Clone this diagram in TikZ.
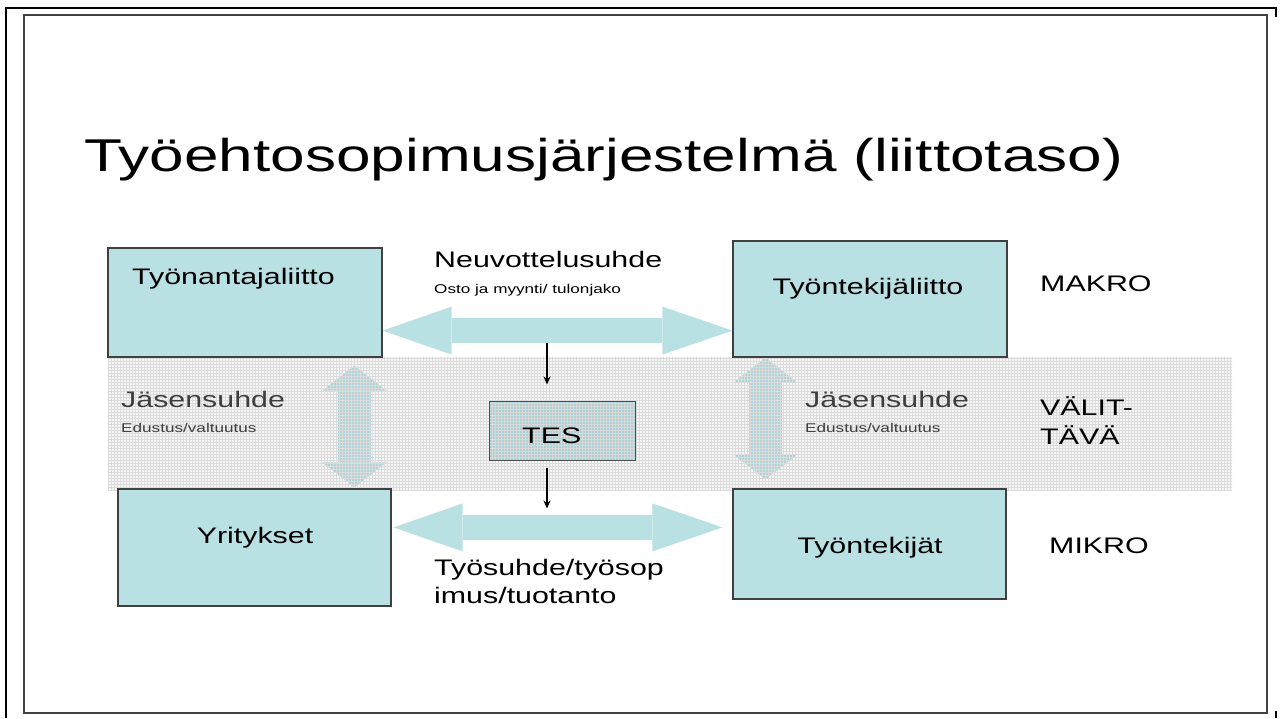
\documentclass[tikz,border=0pt]{standalone}
\usepackage{fontspec}
\setmainfont{Liberation Sans}[FakeStretch=1.35]
\usetikzlibrary{arrows.meta,patterns,backgrounds}
\definecolor{boxcyan}{RGB}{185,224,227}
\definecolor{bandgray}{RGB}{246,246,246}
\definecolor{arrowgray}{RGB}{176,212,215}
\definecolor{tescyan}{RGB}{172,208,211}
\definecolor{jasengray}{RGB}{62,62,62}
\begin{document}
\begin{tikzpicture}[x=1pt,y=-1pt,line join=miter,>=Stealth,
  box/.style={draw=black!75,line width=1.2pt,fill=boxcyan,inner sep=0pt},
  bigtxt/.style={font=\fontsize{22.5}{26}\selectfont,anchor=base west,inner sep=0pt},
  smalltxt/.style={font=\fontsize{12.7}{15}\selectfont,anchor=base west,inner sep=0pt},
  fatarrow/.style={draw=boxcyan,line width=25pt,{Triangle[length=69pt,width=48pt,line width=0pt]}-{Triangle[length=70pt,width=48pt,line width=0pt]}},
  uparrow/.style={draw=arrowgray,line width=33pt,{Triangle[length=25pt,width=64pt,line width=0pt]}-{Triangle[length=25pt,width=64pt,line width=0pt]}},
  smallarrow/.style={->,line width=1.1pt,>={Stealth[length=8pt,width=7pt]}}]
 \useasboundingbox (0,0) rectangle (1283,718);
 \draw[line width=2.6pt] (6,718)--(6,8)--(1276,8)--(1276,17);
 \draw[line width=2.6pt] (1276,711)--(1276,718);
 \draw[line width=1.5pt,black!75] (24,15) rectangle (1267,713);
 \node[bigtxt,font=\fontsize{46}{55}\selectfont] (otsikko) at (84,171) {Työehtosopimusjärjestelmä (liittotaso)};
 \node[box] (tyonantaja) at (245,302.5) [minimum width=274,minimum height=109] {};
 \node[box] (tyontekijaliitto) at (870,299) [minimum width=274,minimum height=116] {};
 \node[box] (yritykset) at (254.5,547.5) [minimum width=273,minimum height=117] {};
 \node[box] (tyontekijat) at (869.5,544) [minimum width=273,minimum height=110] {};
 \node[box,draw=black!70,line width=1pt,preaction={fill=tescyan},pattern=grid,pattern color=gray!30] (tes) at (562,430.5) [minimum width=146,minimum height=59] {};
 \begin{scope}[on background layer]
  \fill[white] (0,0) rectangle (1283,718);
  \fill[bandgray] (108,357) rectangle (1232,490);
  \draw[uparrow] ([xshift=247pt,yshift=-8pt]tyonantaja.south west)--([xshift=237pt,yshift=1pt]yritykset.north west);
  \draw[uparrow] ([xshift=33pt]tyontekijaliitto.south west)--([xshift=33pt,yshift=9pt]tyontekijat.north west);
  \fill[pattern=grid,pattern color=gray!28] (108,357) rectangle (1232,490);
 \end{scope}
 \node[bigtxt] at (522,443) {TES};
 \foreach \x in {121,805} {
  \node[bigtxt,text=jasengray] at (\x,407) {Jäsensuhde};
  \node[smalltxt,text=jasengray] at (\x,432) {Edustus/valtuutus};
 }
 \node[bigtxt] at (132,284) {Työnantajaliitto};
 \node[bigtxt,anchor=base] at (868,294) {Työntekijäliitto};
 \node[bigtxt,anchor=base] at (255,543) {Yritykset};
 \node[bigtxt,anchor=base] at (870,553) {Työntekijät};
 \draw[fatarrow] ([yshift=27pt]tyonantaja.south east)--([yshift=27pt]tyontekijaliitto.south west);
 \draw[fatarrow] ([xshift=2pt,yshift=-39pt]yritykset.north east)--([xshift=-10pt,yshift=-39pt]tyontekijat.north west);
 \draw[smallarrow] ([xshift=-15pt,yshift=58pt]tes.north)--([xshift=-15pt,yshift=16pt]tes.north);
 \draw[smallarrow] ([xshift=-15pt,yshift=-7pt]tes.south)--([xshift=-15pt,yshift=-48pt]tes.south);
 \node[bigtxt] at (434,267) {Neuvottelusuhde};
 \node[smalltxt] at (434,293) {Osto ja myynti/ tulonjako};
 \node[bigtxt] at (434,575) {Työsuhde/työsop};
 \node[bigtxt] at (434,603) {imus/tuotanto};
 \node[bigtxt] at (1040,291) {MAKRO};
 \node[bigtxt] at (1040,415) {VÄLIT-};
 \node[bigtxt] at (1040,444) {TÄVÄ};
 \node[bigtxt] at (1049,553) {MIKRO};
\end{tikzpicture}
\end{document}
